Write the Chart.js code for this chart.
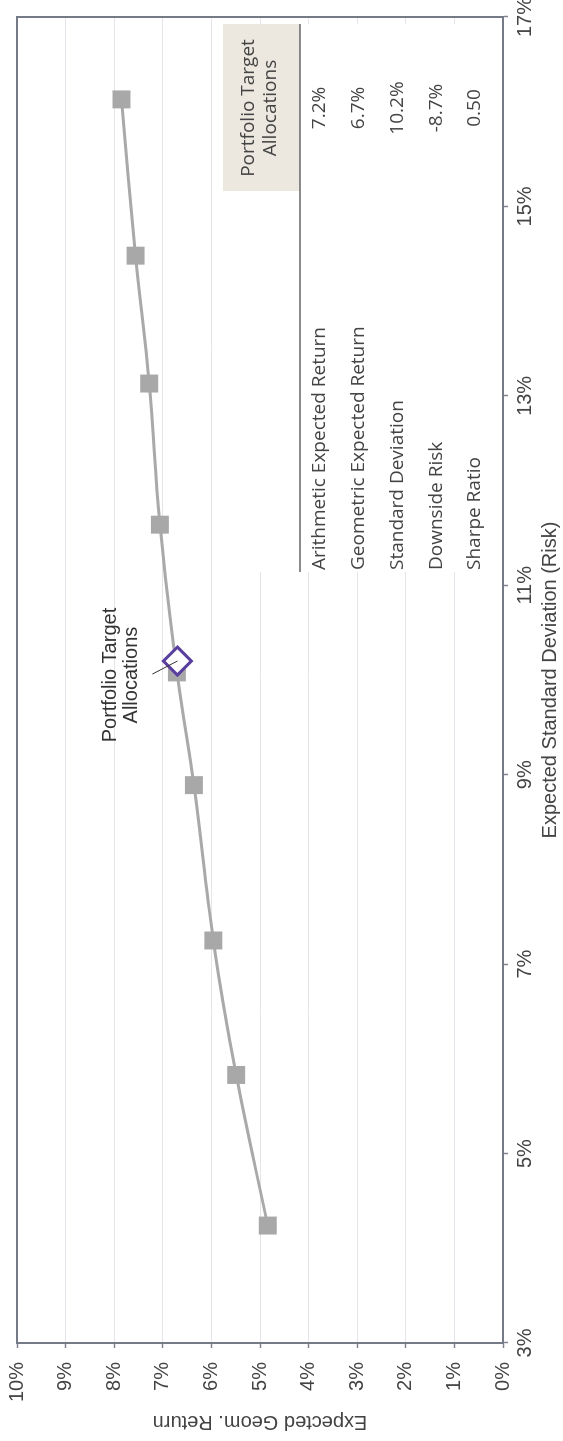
<!DOCTYPE html>
<html>
<head>
<meta charset="utf-8">
<script src="https://cdn.jsdelivr.net/npm/chart.js@4.4.1/dist/chart.umd.min.js"></script>
<style>
    html, body { margin: 0; padding: 0; background: #fff; width: 563px; height: 1441px; overflow: hidden; }
    /* chart is laid out landscape, then turned a quarter to the left */
    #wrap { position: absolute; left: 0; top: 0; width: 1441px; height: 563px;
            transform-origin: 0 0; transform: translateY(1441px) rotate(-90deg); }
</style>
</head>
<body>
<div id="wrap"><canvas id="frontierChart" width="1441" height="563"></canvas></div>
<script>
// efficient frontier points (expected std dev %, expected geometric return %)
const riskValues = [4.24, 5.83, 7.25, 8.89, 10.08, 11.64, 13.13, 14.48, 16.13];
const returnValues = [4.84, 5.49, 5.96, 6.36, 6.71, 7.06, 7.28, 7.56, 7.85];

// portfolio target allocations point
const targetRisk = [10.2];
const targetReturn = [6.7];

// axis ranges
const riskRange = [3, 17, 2];
const returnRange = [0, 10, 1];

// stats table
const statLabels = ['Arithmetic Expected Return', 'Geometric Expected Return', 'Standard Deviation', 'Downside Risk', 'Sharpe Ratio'];
const statValues = ['7.2%', '6.7%', '10.2%', '-8.7%', '0.50'];
const tableTitle = ['Portfolio Target', 'Allocations'];
const pointNote = ['Portfolio Target', 'Allocations'];

const axisColor = '#747a86';
const textColor = '#444';

Chart.defaults.font.family = '"Liberation Sans", Arial, sans-serif';
Chart.defaults.font.size = 20;
Chart.defaults.color = textColor;

const frameBorder = {
    id: 'frameBorder',
    beforeDatasetsDraw(chart) {
        const { ctx, chartArea: a } = chart;
        ctx.save();
        ctx.strokeStyle = axisColor;
        ctx.lineWidth = 2;
        ctx.beginPath();
        ctx.moveTo(a.left, a.top);
        ctx.lineTo(a.right, a.top);
        ctx.lineTo(a.right, a.bottom);
        ctx.stroke();
        ctx.restore();
    }
};

const statsTable = {
    id: 'statsTable',
    beforeDatasetsDraw(chart) {
        const { ctx, chartArea: a } = chart;
        const left = a.right - 555, right = a.right - 7;
        const top = a.top + 206, head = top + 77;
        const valX = a.right - 91;
        ctx.save();
        ctx.fillStyle = '#fff';
        ctx.fillRect(left, top, right - left, a.bottom - 1 - top);
        ctx.fillStyle = '#ece8df';
        ctx.fillRect(a.right - 174, top, 167, head - top);

        ctx.strokeStyle = '#666';
        ctx.lineWidth = 1.5;
        ctx.beginPath();
        ctx.moveTo(left, head);
        ctx.lineTo(right, head);
        ctx.stroke();

        ctx.font = '19px "Open Sans", sans-serif';
        ctx.fillStyle = textColor;
        ctx.textBaseline = 'middle';
        ctx.textAlign = 'center';
        ctx.fillText(tableTitle[0], valX, head - 51);
        ctx.fillText(tableTitle[1], valX, head - 29);
        statLabels.forEach((lbl, i) => {
            const y = head + 20 + i * 38.75;
            ctx.textAlign = 'left';
            ctx.fillText(lbl, left + 2, y);
            ctx.textAlign = 'center';
            ctx.fillText(statValues[i], valX, y);
        });
        ctx.restore();
    }
};

const pointLabel = {
    id: 'pointLabel',
    afterDatasetsDraw(chart) {
        const { ctx } = chart;
        const pt = chart.getDatasetMeta(0).data[0];
        ctx.save();
        ctx.strokeStyle = '#333';
        ctx.lineWidth = 1;
        ctx.beginPath();
        ctx.moveTo(pt.x - 13, pt.y - 25);
        ctx.lineTo(pt.x, pt.y);
        ctx.stroke();
        ctx.font = '20px "Liberation Sans", Arial, sans-serif';
        ctx.fillStyle = '#333';
        ctx.textAlign = 'center';
        ctx.textBaseline = 'middle';
        ctx.fillText(pointNote[0], pt.x - 14, pt.y - 67);
        ctx.fillText(pointNote[1], pt.x - 14, pt.y - 46);
        ctx.restore();
    }
};

const ctx = document.getElementById('frontierChart').getContext('2d');
new Chart(ctx, {
    type: 'scatter',
    data: {
        datasets: [{
            label: 'Portfolio Target Allocations',
            data: targetRisk.map((r, i) => ({ x: r, y: targetReturn[i] })),
            pointStyle: 'rectRot',
            pointRadius: 14,
            backgroundColor: '#fff',
            borderColor: '#5a3f9f',
            borderWidth: 3
        }, {
            label: 'Efficient Frontier',
            data: riskValues.map((r, i) => ({ x: r, y: returnValues[i] })),
            showLine: true,
            tension: 0.4,
            borderColor: '#a9a9a9',
            borderWidth: 3,
            pointStyle: 'rect',
            pointRadius: 12.7,
            pointBorderWidth: 0,
            pointBackgroundColor: '#a8a8a8'
        }]
    },
    options: {
        responsive: false,
        animation: false,
        events: [],
        layout: { padding: { top: 17, right: 16, left: 0, bottom: 0 } },
        plugins: {
            legend: { display: false },
            tooltip: { enabled: false }
        },
        scales: {
            x: {
                type: 'linear',
                min: riskRange[0],
                max: riskRange[1],
                ticks: { stepSize: riskRange[2], callback: v => v + '%', padding: 5, maxRotation: 0 },
                grid: { drawOnChartArea: false, tickLength: 5, tickColor: '#80858f', tickWidth: 1.5 },
                border: { color: axisColor, width: 2 },
                title: { display: true, text: 'Expected Standard Deviation (Risk)', padding: { top: 0, bottom: 1 } },
                afterFit(scale) { scale.height = 60; scale.paddingLeft = 0; scale.paddingRight = 0; }
            },
            y: {
                type: 'linear',
                min: returnRange[0],
                max: returnRange[1],
                ticks: { stepSize: returnRange[2], callback: v => v + '%', padding: 14 },
                grid: { color: '#e4e4ea', lineWidth: 1, tickLength: 5, tickColor: '#80858f', tickWidth: 1.5 },
                border: { color: axisColor, width: 2 },
                title: { display: true, text: 'Expected Geom. Return', padding: { top: 7, bottom: 0 } },
                afterFit(scale) { scale.width = 98; scale.paddingTop = 0; scale.paddingBottom = 0; }
            }
        }
    },
    plugins: [frameBorder, statsTable, pointLabel]
});
</script>
</body>
</html>
